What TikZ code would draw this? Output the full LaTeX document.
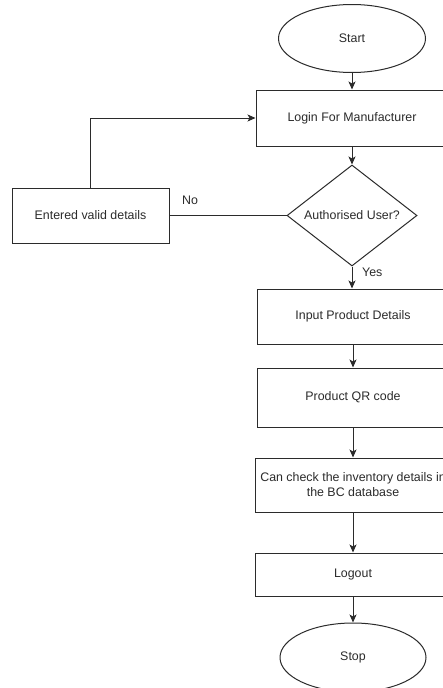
\documentclass[tikz,border=0pt]{standalone}
\usepackage{fontspec}
\setmainfont{Liberation Sans}
\usetikzlibrary{shapes.geometric,arrows.meta}
\definecolor{ink}{HTML}{2B2B2B}
\tikzset{
  base/.style={draw=ink, line width=1pt, text=ink, font=\fontsize{12.4}{15}\selectfont, inner sep=0pt},
  boxnode/.style={base, rectangle, minimum width=192pt},
  termnode/.style={base, ellipse, minimum width=147pt, minimum height=68pt},
  decnode/.style={base, diamond, aspect=1.3, minimum width=130pt, minimum height=101pt},
  lbl/.style={text=ink, font=\fontsize{12.4}{15}\selectfont, inner sep=0pt},
  arr/.style={draw=ink, line width=1pt, -{Stealth[length=8pt,width=7pt,inset=2pt]}},
  ln/.style={draw=ink, line width=1pt}
}
\begin{document}
\begin{tikzpicture}[x=1pt,y=-1pt]
\useasboundingbox (0,0) rectangle (443,688);
\fill[white] (0,0) rectangle (443,688);
\clip (0,0) rectangle (443,688);
\node[termnode] (start) at (352,38.5) {Start};
\node[boxnode, minimum height=56pt] (login) at (352,118) {Login For Manufacturer};
\node[decnode] (auth) at (352,215.5) {Authorised User?};
\node[base, rectangle, minimum width=157pt, minimum height=55pt] (entered) at (90.5,215.5) {Entered valid details};
\node[boxnode, minimum height=55pt] (input) at (353,316.5) {Input Product Details};
\node[boxnode, minimum height=59pt] (qr) at (353,397.5) {Product QR code};
\node[boxnode, minimum width=196pt, minimum height=54pt, align=center] (check) at (353,485) {Can check the inventory details in\\the BC database};
\node[boxnode, minimum width=196pt, minimum height=43pt] (logout) at (353,574.5) {Logout};
\node[termnode, minimum width=146pt, minimum height=69pt] (stop) at (353,657.5) {Stop};
\node[lbl, anchor=west] (no) at (182,200) {No};
\node[lbl, anchor=west] (yes) at (362,272) {Yes};
\draw[arr] (start) -- (login);
\draw[arr] (login) -- (auth);
\draw[ln] (auth.west) -- (entered.east);
\draw[arr] (entered.north) |- (login.west);
\draw[arr] (auth.south) -- (auth.south |- input.north);
\draw[arr] (input) -- (qr);
\draw[arr] (qr) -- (check);
\draw[arr] (check) -- (logout);
\draw[arr] (logout) -- (stop);
\end{tikzpicture}
\end{document}
